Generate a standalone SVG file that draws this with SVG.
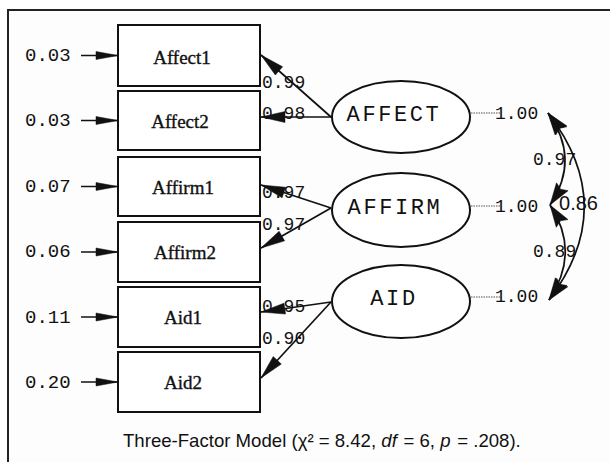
<svg xmlns="http://www.w3.org/2000/svg" width="610" height="462" viewBox="0 0 610 462">
<style>
.box{fill:#fff;stroke:#111;stroke-width:2}
.lat{fill:#fff;stroke:#111;stroke-width:2}
.bl{font-family:"Liberation Serif",serif;font-size:19px;fill:#111;stroke:#111;stroke-width:0.35;text-anchor:middle}
.ll{font-family:"Liberation Mono",monospace;font-size:22px;letter-spacing:2.6px;fill:#111;text-anchor:middle}
.mono{font-family:"Liberation Mono",monospace;font-size:18px;fill:#111}
.err{font-family:"Liberation Mono",monospace;font-size:19px;fill:#111}
.ln{stroke:#111;stroke-width:1.7;fill:none}
.dot{stroke:#555;stroke-width:1.2;stroke-dasharray:1.5 1;fill:none}
.cap{font-family:"Liberation Sans",Arial,sans-serif;font-size:19px;fill:#111}
.ah{fill:#111;stroke:#111;stroke-width:0.5}
</style>
<defs>
<marker id="ea" markerUnits="userSpaceOnUse" markerWidth="24" markerHeight="12" refX="22" refY="6" orient="auto" overflow="visible">
<path class="ah" d="M0,2 L22,6 L0,10 z"/>
</marker>
<marker id="la" markerUnits="userSpaceOnUse" markerWidth="26" markerHeight="14" refX="24" refY="7" orient="auto" overflow="visible">
<path class="ah" d="M0,1.5 L24,7 L0,12.5 z"/>
</marker>
<marker id="ca" markerUnits="userSpaceOnUse" markerWidth="24" markerHeight="16" refX="22" refY="8" orient="auto-start-reverse" overflow="visible">
<path class="ah" d="M0,1 L22,8 L0,15 L3,8 z"/>
</marker>
</defs>
<rect x="0" y="0" width="610" height="462" fill="#fff"/>
<rect x="8" y="10" width="700" height="600" fill="#fdfdfd" stroke="#222" stroke-width="2"/>

<g id="connectors">
<line class="ln" x1="81" y1="55.5" x2="118" y2="55.5" marker-end="url(#ea)"/>
<line class="ln" x1="81" y1="120.5" x2="118" y2="120.5" marker-end="url(#ea)"/>
<line class="ln" x1="81" y1="186.5" x2="118" y2="186.5" marker-end="url(#ea)"/>
<line class="ln" x1="81" y1="252" x2="118" y2="252" marker-end="url(#ea)"/>
<line class="ln" x1="81" y1="317" x2="118" y2="317" marker-end="url(#ea)"/>
<line class="ln" x1="81" y1="382" x2="118" y2="382" marker-end="url(#ea)"/>
<line class="ln" x1="331" y1="117" x2="261" y2="55" marker-end="url(#la)"/>
<line class="ln" x1="331" y1="117" x2="261" y2="117" marker-end="url(#la)"/>
<line class="ln" x1="331" y1="208" x2="261" y2="185" marker-end="url(#la)"/>
<line class="ln" x1="331" y1="208" x2="261" y2="248" marker-end="url(#la)"/>
<line class="ln" x1="331" y1="302" x2="261" y2="312" marker-end="url(#la)"/>
<line class="ln" x1="331" y1="302" x2="261" y2="378" marker-end="url(#la)"/>
<line class="dot" x1="471" y1="113" x2="500" y2="113"/>
<line class="dot" x1="471" y1="206" x2="500" y2="206"/>
<line class="dot" x1="471" y1="297" x2="500" y2="297"/>
<path class="ln" d="M548,113 Q581,159 550,205" marker-start="url(#ca)" marker-end="url(#ca)"/>
<path class="ln" d="M550,205 Q581,252 549,300" marker-start="url(#ca)" marker-end="url(#ca)"/>
<path class="ln" d="M548,113 Q620,206 549,300" marker-start="url(#ca)" marker-end="url(#ca)"/>
</g>

<g id="Affect1"><rect class="box" x="118" y="25" width="142" height="61"/><text class="bl" x="182" y="64">Affect1</text></g>
<g id="Affect2"><rect class="box" x="118" y="91" width="142" height="59"/><text class="bl" x="180" y="128">Affect2</text></g>
<g id="Affirm1"><rect class="box" x="118" y="157" width="142" height="59"/><text class="bl" x="183" y="194">Affirm1</text></g>
<g id="Affirm2"><rect class="box" x="118" y="222" width="142" height="60"/><text class="bl" x="185" y="259">Affirm2</text></g>
<g id="Aid1"><rect class="box" x="118" y="287" width="142" height="60"/><text class="bl" x="183" y="324">Aid1</text></g>
<g id="Aid2"><rect class="box" x="118" y="352" width="142" height="60"/><text class="bl" x="183" y="389">Aid2</text></g>

<g id="AFFECT"><ellipse class="lat" cx="401" cy="117" rx="69" ry="36"/><text class="ll" x="394" y="121">AFFECT</text></g>
<g id="AFFIRM"><ellipse class="lat" cx="401" cy="210" rx="69" ry="37"/><text class="ll" x="395" y="214">AFFIRM</text></g>
<g id="AID"><ellipse class="lat" cx="401" cy="301.5" rx="69" ry="36.5"/><text class="ll" x="394" y="305">AID</text></g>

<g id="errors">
<text class="err" x="25" y="61">0.03</text>
<text class="err" x="25" y="126">0.03</text>
<text class="err" x="25" y="192">0.07</text>
<text class="err" x="25" y="257">0.06</text>
<text class="err" x="25" y="323">0.11</text>
<text class="err" x="25" y="388">0.20</text>
</g>

<g id="loadings">
<text class="mono" x="262" y="88">0.99</text>
<text class="mono" x="262" y="119">0.98</text>
<text class="mono" x="262" y="198">0.97</text>
<text class="mono" x="262" y="230">0.97</text>
<text class="mono" x="262" y="312">0.95</text>
<text class="mono" x="262" y="344">0.90</text>
</g>

<g id="variances">
<text class="mono" x="495" y="119">1.00</text>
<text class="mono" x="495" y="212">1.00</text>
<text class="mono" x="495" y="302">1.00</text>
</g>

<g id="correlations">
<text class="mono" x="533" y="165">0.97</text>
<text class="mono" x="533" y="257">0.89</text>
<text class="cap" x="598" y="210" text-anchor="end" style="font-size:20px">0.86</text>
</g>

<text class="cap" x="123" y="447" style="font-size:18.6px">Three-Factor Model (χ² = 8.42, <tspan font-style="italic">df</tspan><tspan dx="1.5"> = 6, </tspan><tspan font-style="italic">p</tspan><tspan dx="1.5"> = .208).</tspan></text>
</svg>
